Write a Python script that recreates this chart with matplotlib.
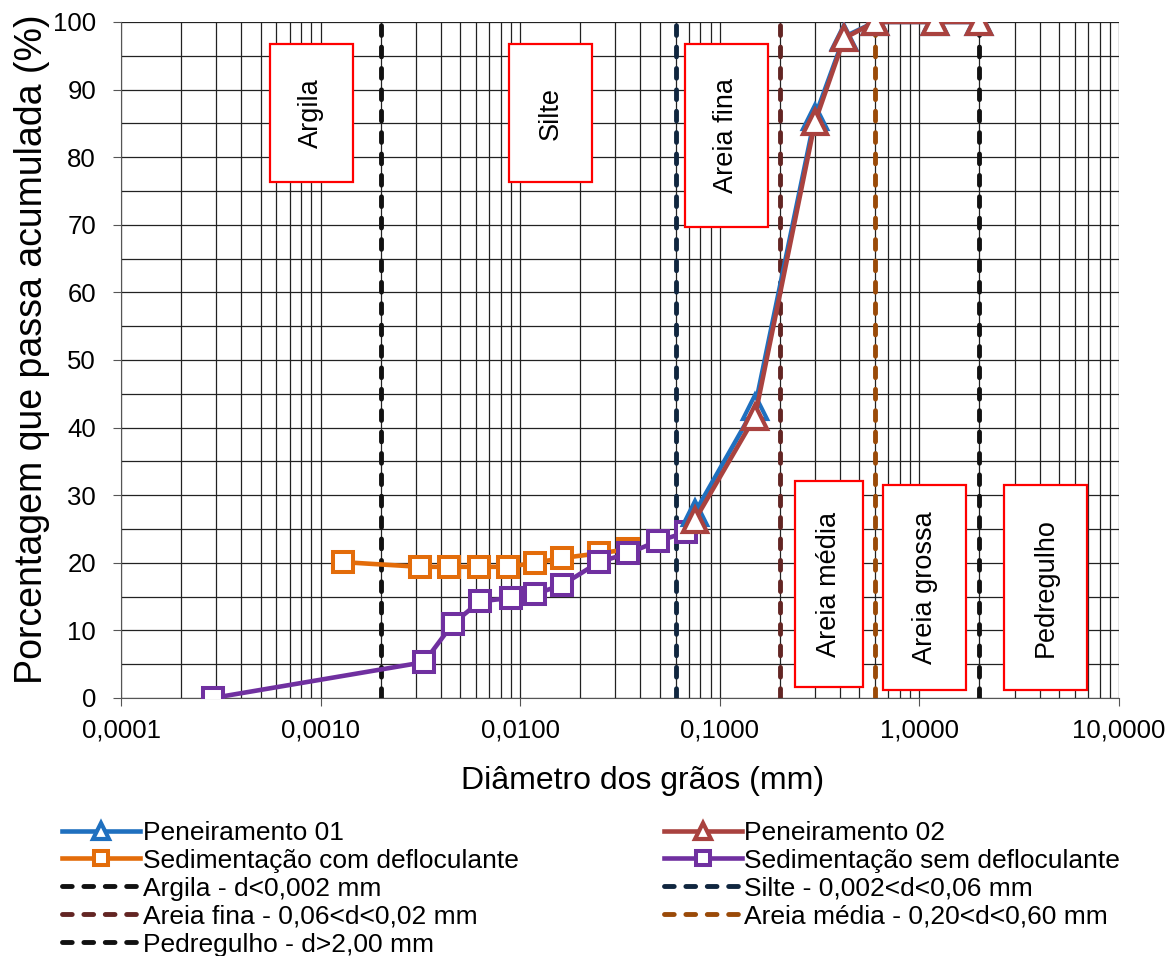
import numpy as np
import matplotlib
matplotlib.use("Agg")
import matplotlib.pyplot as plt
from matplotlib.patches import Rectangle
from matplotlib.ticker import FixedLocator, LogLocator, NullFormatter, FuncFormatter

plt.rcParams['font.family'] = ['Liberation Sans', 'DejaVu Sans']

# ensaio de peneiramento
pen01_d = [0.075, 0.15, 0.30, 0.42, 0.60, 1.20, 2.00]
pen01_p = [27.4, 43.0, 86.0, 97.8, 100, 100, 100]
pen02_d = [0.075, 0.15, 0.30, 0.42, 0.60, 1.20, 2.00]
pen02_p = [26.3, 41.6, 85.2, 97.6, 100, 100, 100]

# sedimentacao
sed_com_d = [0.00129, 0.00315, 0.0044, 0.0062, 0.0087, 0.0119, 0.0162, 0.0248, 0.0347]
sed_com_p = [20.1, 19.4, 19.4, 19.4, 19.4, 20.0, 20.7, 21.4, 22.0]
sed_sem_d = [0.000289, 0.0033, 0.0046, 0.0063, 0.0090, 0.0119, 0.0162, 0.0248, 0.0347, 0.049, 0.0677]
sed_sem_p = [0.0, 5.3, 11.0, 14.3, 14.8, 15.4, 16.7, 20.1, 21.4, 23.2, 24.5]

# limites das fracoes
limites = [0.002, 0.06, 0.2, 0.6, 2.0]
limites_nomes = ['Argila - d<0,002 mm', 'Silte - 0,002<d<0,06 mm',
                 'Areia fina - 0,06<d<0,02 mm', 'Areia média - 0,20<d<0,60 mm',
                 'Pedregulho - d>2,00 mm']
limites_cores = ['#111111', '#10263f', '#632523', '#9a4a08', '#111111']

# caixas de texto (fracao dos eixos): x0, x1, y0, y1
caixas = {
    'Argila': (0.149, 0.2325, 0.763, 0.967),
    'Silte': (0.389, 0.472, 0.763, 0.967),
    'Areia fina': (0.565, 0.648, 0.697, 0.967),
    'Areia média': (0.675, 0.744, 0.016, 0.321),
    'Areia grossa': (0.7635, 0.847, 0.012, 0.315),
    'Pedregulho': (0.885, 0.968, 0.012, 0.315),
}

fig = plt.figure(figsize=(11.76, 9.56), dpi=100)
ax = fig.add_axes([0.1029, 0.2699, 0.8486, 0.7071])
ax.set_xscale('log')
ax.set_xlim(0.0001, 10)
ax.set_ylim(0, 100)

# grade
ax.xaxis.set_major_locator(LogLocator(base=10))
ax.xaxis.set_minor_locator(LogLocator(base=10, subs=np.arange(2, 10)))
ax.xaxis.set_minor_formatter(NullFormatter())
ax.xaxis.set_major_formatter(FuncFormatter(lambda v, p: f"{v:.4f}".replace('.', ',')))
ax.yaxis.set_major_locator(FixedLocator(np.arange(0, 101, 10)))
ax.yaxis.set_minor_locator(FixedLocator(np.arange(5, 100, 10)))
ax.grid(True, which='both', color='#222222', lw=0.9)
ax.set_axisbelow(True)
for s in ['top', 'right']:
    ax.spines[s].set_visible(False)
ax.spines['left'].set_color('#555555')
ax.spines['bottom'].set_color('#555555')
ax.tick_params(which='major', length=6, color='#555555', labelsize=18.5, direction='out')
ax.tick_params(axis='x', which='minor', length=0)
ax.tick_params(axis='y', which='minor', length=0)
ax.tick_params(axis='x', pad=9)
ax.tick_params(axis='y', pad=12)

handles = {}
dash_kw = dict(lw=3.5, dashes=(2.0, 2.4), dash_capstyle='round')
for d, nome, cor in zip(limites, limites_nomes, limites_cores):
    h, = ax.plot([d, d], [0, 100], color=cor, zorder=3, **dash_kw)
    handles[nome] = h

handles['Sedimentação com defloculante'], = ax.plot(
    sed_com_d, sed_com_p, color='#E36C0A', lw=3.3, marker='s', ms=14.5,
    mfc='white', mew=2.9, zorder=4)
handles['Sedimentação sem defloculante'], = ax.plot(
    sed_sem_d, sed_sem_p, color='#7030A0', lw=3.3, marker='s', ms=14.5,
    mfc='white', mew=2.9, zorder=4)
handles['Peneiramento 01'], = ax.plot(
    pen01_d, pen01_p, color='#1F70BF', lw=3.3, marker='^', ms=17,
    mfc='white', mew=3, zorder=5)
handles['Peneiramento 02'], = ax.plot(
    pen02_d, pen02_p, color='#A9423F', lw=3.3, marker='^', ms=17,
    mfc='white', mew=3, zorder=6)

for txt, (x0, x1, y0, y1) in caixas.items():
    ax.add_patch(Rectangle((x0, y0), x1 - x0, y1 - y0, transform=ax.transAxes,
                           facecolor='white', edgecolor='#FF0000', lw=1.6, zorder=7))
    ax.text((x0 + x1) / 2, (y0 + y1) / 2, txt, transform=ax.transAxes,
            rotation=90, ha='center', va='center', fontsize=19.5, zorder=8)

ax.set_xlabel('Diâmetro dos grãos (mm)', fontsize=23)
ax.xaxis.set_label_coords(0.523, -0.100)
ax.set_ylabel('Porcentagem que passa acumulada (%)', fontsize=27)
ax.yaxis.set_label_coords(-0.071, 0.516)

ordem = ['Peneiramento 01', 'Sedimentação com defloculante', limites_nomes[0],
         limites_nomes[2], limites_nomes[4], 'Peneiramento 02',
         'Sedimentação sem defloculante', limites_nomes[1], limites_nomes[3]]
fig.legend([handles[k] for k in ordem], ordem, loc='upper left',
           bbox_to_anchor=(0.044, 0.1525), ncol=2, frameon=False, fontsize=19,
           handlelength=2.95, handletextpad=0.1, columnspacing=5.5,
           labelspacing=0.15, borderaxespad=0, markerscale=0.7)

fig.savefig('out.png', dpi=100, facecolor='white')
